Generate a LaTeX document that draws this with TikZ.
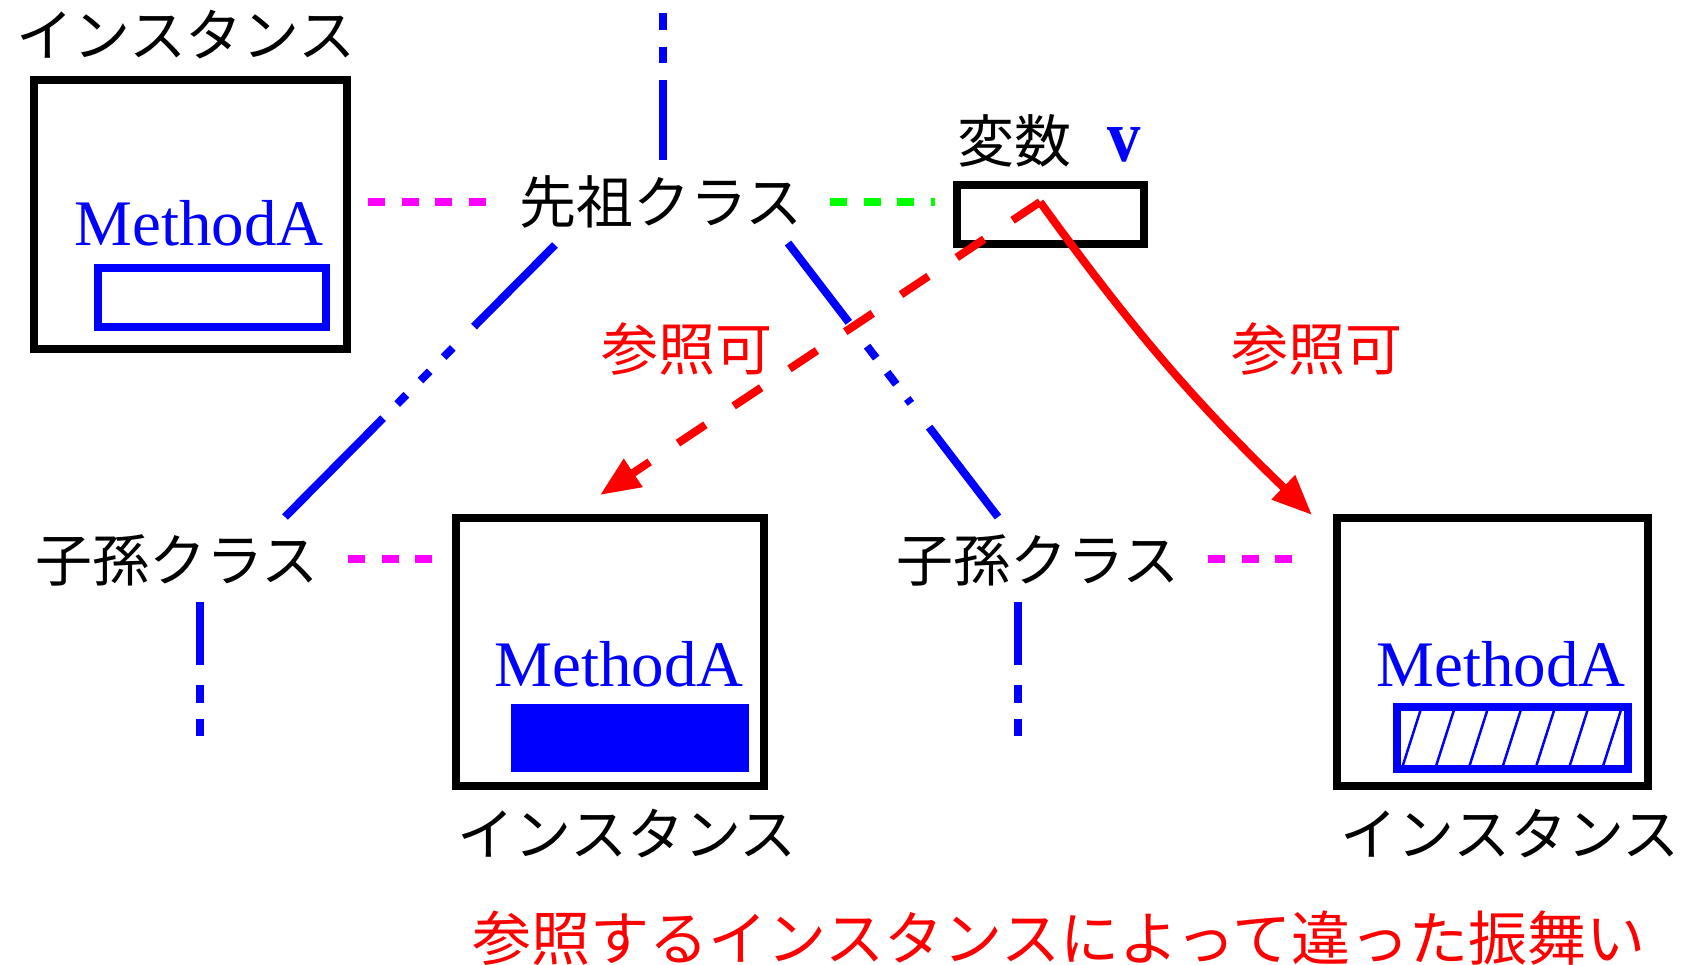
\documentclass[tikz,border=0pt]{standalone}
\usepackage{fontspec}
\usepackage{graphicx}
\newfontfamily\jpfont{Noto Sans CJK JP}
\newfontfamily\serifA{Liberation Serif}
\usetikzlibrary{arrows.meta,calc}
\definecolor{pureblue}{RGB}{0,0,255}
\definecolor{purered}{RGB}{255,0,0}
\definecolor{puremag}{RGB}{255,0,255}
\definecolor{puregreen}{RGB}{0,255,0}
\tikzset{
  jp/.style={font=\jpfont\fontsize{57}{60}\selectfont, inner sep=0pt, outer sep=0pt},
  jpred/.style={jp, text=purered},
  meth/.style={font=\serifA\fontsize{65}{70}\selectfont, text=pureblue, inner sep=0pt, outer sep=0pt, anchor=base},
  boxst/.style={draw=black, line width=8pt, inner sep=0pt, outer sep=0pt},
  slotst/.style={draw=pureblue, line width=8pt, inner sep=0pt, outer sep=0pt},
  magdot/.style={draw=puremag, line width=8pt, dash pattern=on 17pt off 16.5pt},
  grndot/.style={draw=puregreen, line width=8pt, dash pattern=on 17pt off 16.5pt},
  topline/.style={draw=pureblue, line width=8pt, dash pattern=on 80pt off 17pt on 16pt off 17pt on 17pt off 100pt},
  leftdiag/.style={draw=pureblue, line width=8pt, dash pattern=on 115pt off 30pt on 13pt off 20pt on 13pt off 20pt on 13pt off 20pt on 300pt},
  rightdiag/.style={draw=pureblue, line width=8pt, dash pattern=on 100pt off 30pt on 15pt off 18pt on 15pt off 18pt on 6pt off 30pt on 300pt},
  downline/.style={draw=pureblue, line width=8pt, dash pattern=on 63pt off 20pt on 18pt off 16pt on 17pt off 80pt},
  refdash/.style={draw=purered, line width=8pt, dash pattern=on 33pt off 34pt, -{Triangle[length=40pt,width=32pt]}},
  refsolid/.style={draw=purered, line width=8pt, -{Triangle[length=40pt,width=32pt]}},
  hatchline/.style={draw=pureblue, line width=2.5pt}
}
\begin{document}
\begin{tikzpicture}[x=1pt,y=-1pt]
\useasboundingbox (0,0) rectangle (1695,965);
\fill[white] (0,0) rectangle (1695,965);

% top-left instance
\node[jp] (inst1) at (186,35) {インスタンス};
\node[boxst, minimum width=313pt, minimum height=269pt] (box1) at (190.5,214.5) {};
\node[meth] (m1) at (199,246) {MethodA};
\node[slotst, minimum width=228pt, minimum height=59.5pt] (slot1) at (212,297.75) {};

% ancestor class and variable
\node[jp] (anc) at (661,202) {先祖クラス};
\node[jp] (varlab) at (1014.5,140.5) {変数};
\node[font=\serifA\bfseries\fontsize{74}{80}\selectfont, text=pureblue, inner sep=0pt, anchor=base] (vname) at (1124,162) {\scalebox{0.9}[1]{v}};
\node[boxst, minimum width=187pt, minimum height=59pt] (var) at (1050.5,214.5) {};

% descendant classes
\node[jp] (desc1) at (177,560) {子孫クラス};
\node[jp] (desc2) at (1038,560) {子孫クラス};

% instance 2
\node[boxst, minimum width=308pt, minimum height=268pt] (box2) at (610,652) {};
\node[meth] (m2) at (619,686) {MethodA};
\node[fill=pureblue, inner sep=0pt, outer sep=0pt, minimum width=238pt, minimum height=68pt] (slot2) at (630,738) {};
\node[jp] (inst2) at (627,834) {インスタンス};

% instance 3
\node[boxst, minimum width=311pt, minimum height=268pt] (box3) at (1492.5,652) {};
\node[meth] (m3) at (1501,686) {MethodA};
\node[slotst, minimum width=231pt, minimum height=62pt] (slot3) at (1512.5,738) {};
\begin{scope}
  \clip ($(slot3.south west)+(4,-4)$) rectangle ($(slot3.north east)+(-4,4)$);
  \foreach \k in {-1,...,7}
    \draw[hatchline] ({1403.3+33.4*\k-3.2},774) -- ++(22.4,-70);
\end{scope}
\node[jp] (inst3) at (1510,834) {インスタンス};

% labels
\node[jpred] (ref1) at (687,349) {参照可};
\node[jpred] (ref2) at (1317,349) {参照可};
\node[jp, text=purered, font=\jpfont\fontsize{59}{62}\selectfont] (note) at (1059,938) {参照するインスタンスによって違った振舞い};

% dotted relations
\draw[magdot] ($(box1)+(177.5,-12.5)$) -- ($(anc)+(-175,0)$);
\draw[grndot] ($(anc)+(169,0)$) -- ($(var)+(-115.5,-12.5)$);
\draw[magdot] ($(desc1)+(171,-1)$) -- ($(box2)+(-178,-93)$);
\draw[magdot] ($(desc2)+(170,-1)$) -- ($(box3)+(-200.5,-93)$);

% inheritance lines
\draw[topline] ($(anc)+(2,-42)$) -- ($(anc)+(2,-189)$);
\draw[leftdiag] ($(anc)+(-106,43)$) -- ($(desc1)+(108,-43)$);
\draw[rightdiag] ($(anc)+(127,41)$) -- ($(desc2)+(-40,-43)$);
\draw[downline] ($(desc1)+(23,42)$) -- ($(desc1)+(23,176)$);
\draw[downline] ($(desc2)+(-20,42)$) -- ($(desc2)+(-20,176)$);

% references
\coordinate (vp) at ($(var)+(-10.5,-12.5)$);
\draw[refdash] (vp) -- ($(box2)+(-10,-157)$);
\draw[refsolid] (vp) to[bend right=5] ($(box3)+(-180.5,-137)$);
\end{tikzpicture}
\end{document}
